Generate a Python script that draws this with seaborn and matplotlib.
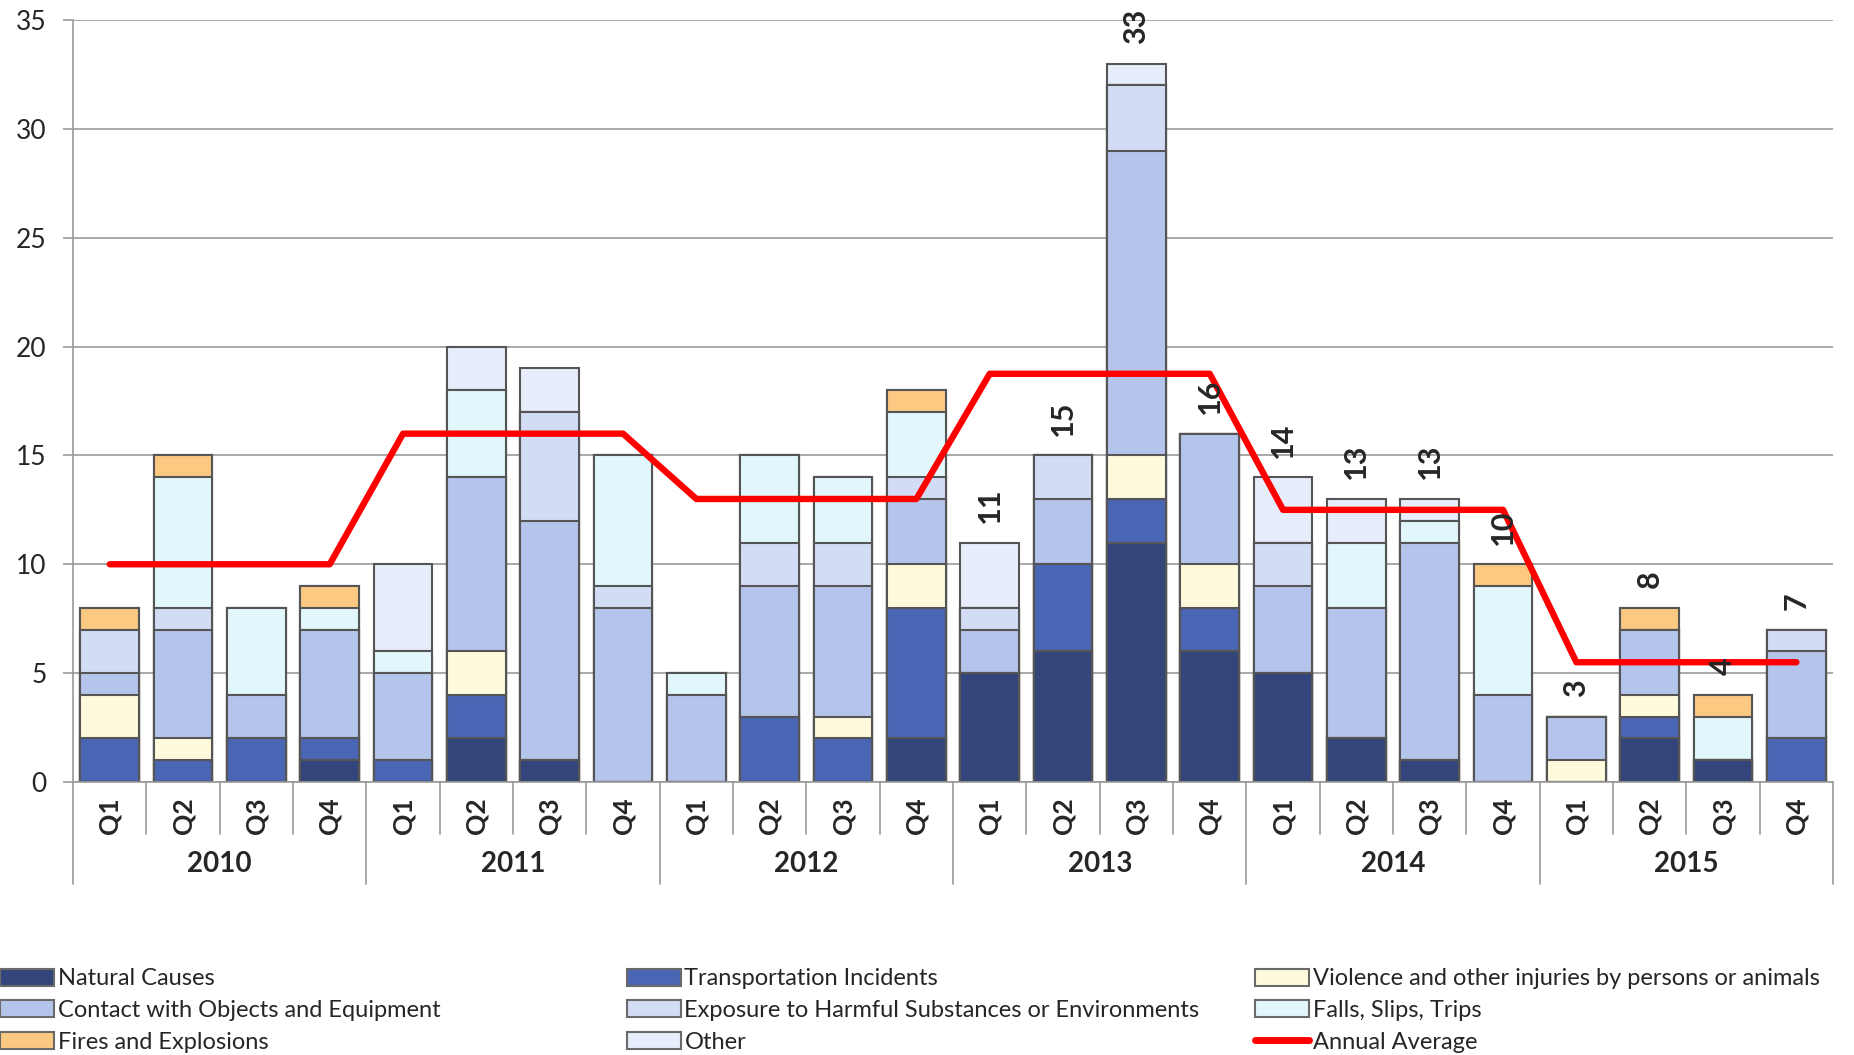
import pandas as pd
import matplotlib.pyplot as plt
import seaborn as sns
from matplotlib.patches import Patch
from matplotlib.lines import Line2D

# Dados (por trimestre, 2010 Q1 ... 2015 Q4)
years = ['2010', '2011', '2012', '2013', '2014', '2015']
quarters = ['Q1', 'Q2', 'Q3', 'Q4']

natural = [0, 0, 0, 1, 0, 2, 1, 0, 0, 0, 0, 2, 5, 6, 11, 6, 5, 2, 1, 0, 0, 2, 1, 0]
transport = [2, 1, 2, 1, 1, 2, 0, 0, 0, 3, 2, 6, 0, 4, 2, 2, 0, 0, 0, 0, 0, 1, 0, 2]
violence = [2, 1, 0, 0, 0, 2, 0, 0, 0, 0, 1, 2, 0, 0, 2, 2, 0, 0, 0, 0, 1, 1, 0, 0]
contact = [1, 5, 2, 5, 4, 8, 11, 8, 4, 6, 6, 3, 2, 3, 14, 6, 4, 6, 10, 4, 2, 3, 0, 4]
exposure = [2, 1, 0, 0, 0, 0, 5, 1, 0, 2, 2, 1, 1, 2, 3, 0, 2, 0, 0, 0, 0, 0, 0, 1]
falls = [0, 6, 4, 1, 1, 4, 0, 6, 1, 4, 3, 3, 0, 0, 0, 0, 0, 3, 1, 5, 0, 0, 2, 0]
fires = [1, 1, 0, 1, 0, 0, 0, 0, 0, 0, 0, 1, 0, 0, 0, 0, 0, 0, 0, 1, 0, 1, 1, 0]
other = [0, 0, 0, 0, 4, 2, 2, 0, 0, 0, 0, 0, 3, 0, 1, 0, 3, 2, 1, 0, 0, 0, 0, 0]

# rótulos de total só a partir de 2013 Q1
label_start = 12

series = [
    ('Natural Causes', natural, '#33457a'),
    ('Transportation Incidents', transport, '#4a65b3'),
    ('Violence and other injuries by persons or animals', violence, '#fefbdc'),
    ('Contact with Objects and Equipment', contact, '#b5c4ea'),
    ('Exposure to Harmful Substances or Environments', exposure, '#d3dcf5'),
    ('Falls, Slips, Trips', falls, '#e2f7fc'),
    ('Fires and Explosions', fires, '#fcc982'),
    ('Other', other, '#e7edfa'),
]

# Montar o DataFrame
df = pd.DataFrame({'year': [y for y in years for q in quarters],
                   'quarter': quarters * len(years)})
df['key'] = df['year'] + ' ' + df['quarter']
for name, vals, _ in series:
    df[name] = vals
names = [s[0] for s in series]
df['total'] = df[names].sum(axis=1)
df['media'] = df.groupby('year')['total'].transform('mean')

sns.set_style('white')
plt.rcParams['font.family'] = ['Lato', 'DejaVu Sans']

fig = plt.figure(figsize=(18.54, 10.55), dpi=100)
ax = fig.add_axes([0.0394, 0.2588, 0.9493, 0.7222])

# Barras empilhadas: desenhar acumulados do maior para o menor
cum = df[names].cumsum(axis=1)
for name, _, cor in reversed(series):
    sns.barplot(x=df['key'], y=cum[name], order=list(df['key']), color=cor,
                saturation=1, errorbar=None, width=0.8, edgecolor='#555555',
                linewidth=1.5, ax=ax, zorder=2)

# Linha da média anual
sns.lineplot(x=list(range(len(df))), y=df['media'], color='red', linewidth=4.6,
             ax=ax, zorder=4)

# Rótulos dos totais
for i in range(label_start, len(df)):
    ax.text(i, df['total'][i] + 0.9, str(df['total'][i]), rotation=90,
            ha='center', va='bottom', fontsize=22, fontweight='bold', zorder=5)

ax.set_xlim(-0.5, len(df) - 0.5)
ax.set_ylim(0, 35)
ax.set_yticks(range(0, 36, 5))
ax.tick_params(axis='y', labelsize=19, length=7, width=1.2, color='#999999',
               pad=12, left=True)
ax.yaxis.grid(True, color='#9a9a9a', linewidth=1.2, zorder=0)
ax.set_axisbelow(True)
ax.set_xlabel('')
ax.set_ylabel('')

ax.set_xticks(range(len(df)))
ax.set_xticklabels(df['quarter'], rotation=90, fontsize=19, fontweight='bold')
ax.tick_params(axis='x', length=0, pad=11)

for lado in ['top', 'right']:
    ax.spines[lado].set_visible(False)
for lado in ['left', 'bottom']:
    ax.spines[lado].set_color('#999999')
    ax.spines[lado].set_linewidth(1.2)

# Separadores do eixo x (trimestres e anos)
tr = ax.get_xaxis_transform()
for i in range(len(df) + 1):
    profundidade = -0.134 if i % 4 == 0 else -0.068
    ax.plot([i - 0.5, i - 0.5], [0, profundidade], color='#999999',
            linewidth=1.2, transform=tr, clip_on=False)
for k, ano in enumerate(years):
    ax.text(k * 4 + 1.5, -0.108, ano, transform=tr, ha='center', va='center',
            fontsize=20, fontweight='bold')

# Legenda em três colunas de largura igual
handles = {name: Patch(facecolor=cor, edgecolor='#6a6a6a', linewidth=1.5)
           for name, _, cor in series}
handles['Annual Average'] = Line2D([0], [0], color='red', linewidth=5)
colunas = [
    ['Natural Causes', 'Contact with Objects and Equipment', 'Fires and Explosions'],
    ['Transportation Incidents', 'Exposure to Harmful Substances or Environments', 'Other'],
    ['Violence and other injuries by persons or animals', 'Falls, Slips, Trips', 'Annual Average'],
]
for x0, col in zip([0.0, 0.338, 0.677], colunas):
    fig.legend([handles[c] for c in col], col, loc='upper left',
               bbox_to_anchor=(x0, 0.082), frameon=False, fontsize=17,
               handlelength=2.3, handleheight=0.72, handletextpad=0.15,
               labelspacing=0.45, borderpad=0, borderaxespad=0)

plt.savefig('out.png', dpi=100)
